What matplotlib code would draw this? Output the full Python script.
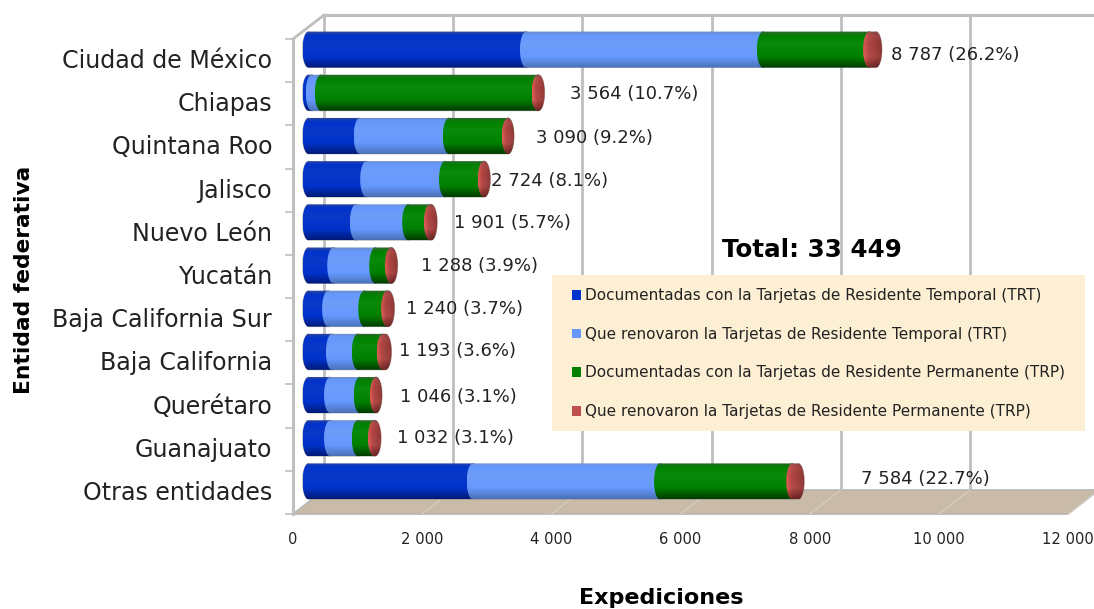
import numpy as np
import matplotlib
matplotlib.use("Agg")
import matplotlib.pyplot as plt
from matplotlib.path import Path
from matplotlib.patches import Patch, Polygon, Rectangle
from matplotlib.transforms import offset_copy, Affine2D

plt.rcParams['font.family'] = ['DejaVu Sans']

# datos
entidades = ["Ciudad de México", "Chiapas", "Quintana Roo", "Jalisco", "Nuevo León", "Yucatán",
             "Baja California Sur", "Baja California", "Querétaro", "Guanajuato", "Otras entidades"]
doc_trt = [3367, 50, 793, 893, 733, 383, 303, 363, 333, 333, 2543]
ren_trt = [3669, 140, 1380, 1220, 810, 650, 560, 400, 460, 430, 2900]
doc_trp = [1644, 3356, 914, 600, 337, 244, 354, 387, 250, 250, 2047]
ren_trp = [107, 18, 3, 11, 21, 11, 23, 43, 3, 19, 94]
etiquetas = ["8 787 (26.2%)", "3 564 (10.7%)", "3 090 (9.2%)", "2 724 (8.1%)", "1 901 (5.7%)", "1 288 (3.9%)",
             "1 240 (3.7%)", "1 193 (3.6%)", "1 046 (3.1%)", "1 032 (3.1%)", "7 584 (22.7%)"]
xticks = [0, 2000, 4000, 6000, 8000, 10000, 12000]
xticklabels = ["0", "2 000", "4 000", "6 000", "8 000", "10 000", "12 000"]
series = ["Documentadas con la Tarjetas de Residente Temporal (TRT)",
          "Que renovaron la Tarjetas de Residente Temporal (TRT)",
          "Documentadas con la Tarjetas de Residente Permanente (TRP)",
          "Que renovaron la Tarjetas de Residente Permanente (TRP)"]

# posicion de las etiquetas en pixeles (izquierda, centro y)
etq_x = [891, 570, 536, 491, 454, 421, 406, 399, 400, 397, 861]
etq_y = [55, 94, 138, 181, 223, 266, 309, 351, 397, 438, 479]

colores = ["#0033CC", "#6699FF", "#008000", "#C0504D"]
oscuro = ["#001A78", "#4A70B8", "#003C00", "#7A2A28"]
claro = ["#0A38C8", "#6E9CF8", "#0A8A0A", "#B84844"]

W, H = 1094, 609
fig = plt.figure(figsize=(W / 100, H / 100), dpi=100)
ax = fig.add_axes([293 / W, (H - 514) / H, 775 / W, 475 / H])
ax.set_xlim(0, 12000)
ax.set_ylim(10.5, -0.5)
for s in ax.spines.values():
    s.set_visible(False)

gris = "#BFBFBF"
fondo = offset_copy(ax.transData, fig=fig, x=31, y=24, units='dots')
medio = offset_copy(ax.transData, fig=fig, x=15.5, y=11, units='dots')

# piso
piso = Polygon([[0, 10.5], [12000, 10.5], [12000 + 31 / 0.0646, 10.5 - 24 / 43.18], [31 / 0.0646, 10.5 - 24 / 43.18]],
               closed=True, facecolor="#C9BBA8", edgecolor="#B5B5B5", lw=1.2, zorder=1, clip_on=False)
ax.add_patch(piso)

# rejilla de atras
for v in xticks:
    ax.plot([v, v], [-0.5, 10.5], color=gris, lw=2, transform=fondo, clip_on=False, zorder=1.5, solid_capstyle='butt')
    if v > 0:
        ax.plot([v - 31 / 0.0646, v], [10.5 + 24 / 43.18, 10.5], color="#D9CFC2", lw=0.8, transform=fondo,
                clip_on=False, zorder=1.4)
ax.plot([0, 12000], [-0.5, -0.5], color=gris, lw=2.2, transform=fondo, clip_on=False, zorder=1.5)
ax.plot([0, 0], [-0.5, 10.5], color=gris, lw=2.2, clip_on=False, zorder=1.6)
ax.plot([0, 31 / 0.0646], [-0.5, -0.5 - 24 / 43.18], color=gris, lw=2, clip_on=False, zorder=1.6)

# ticks
ax.set_yticks(np.arange(-0.5, 11, 1))
ax.set_yticklabels([])
ax.set_yticks(np.arange(11), minor=True)
ax.set_yticklabels(entidades, minor=True, fontsize=17.1, color="#222222")
ax.tick_params(axis='y', which='major', length=6, color=gris, width=1.2)
ax.tick_params(axis='y', which='minor', length=0, pad=15)
for lbl in ax.get_yticklabels(minor=True):
    lbl.set_transform(lbl.get_transform() + Affine2D().translate(0, 2))
ax.set_xticks(xticks)
ax.set_xticklabels(xticklabels, fontsize=10.6, color="#222222")
ax.tick_params(axis='x', length=0, pad=13)


def cilindro(a, b, y, rx, h, k):
    t = np.linspace(-np.pi / 2, np.pi / 2, 30)
    xs = np.concatenate([a - rx * np.cos(t), b + rx * np.cos(t[::-1])])
    ys = np.concatenate([y + h * np.sin(t), y + h * np.sin(t[::-1])])
    p = Path(np.column_stack([xs, ys]))
    c0 = np.array(matplotlib.colors.to_rgb(oscuro[k]))
    c1 = np.array(matplotlib.colors.to_rgb(colores[k]))
    c2 = np.array(matplotlib.colors.to_rgb(claro[k]))
    # degradado vertical, oscuro en los bordes
    pos = np.array([0, 0.12, 0.35, 0.7, 1])
    filas = np.array([c0 * 0.8 + 0.2, c1, c2, c1, c0])
    lin = np.linspace(0, 1, 64)
    img = np.stack([np.interp(lin, pos, filas[:, i]) for i in range(3)], axis=1)[:, np.newaxis, :]
    img = np.repeat(img, 2, axis=1)
    if k == 3:
        # la tapa roja es mas clara a la izquierda
        img = np.repeat(img[:, :1, :], 32, axis=1)
        brillo = np.interp(np.linspace(0, 1, 32), [0, 0.3, 1], [1.2, 0.95, 0.75])
        img = np.clip(img * brillo[np.newaxis, :, np.newaxis], 0, 1)
    im = ax.imshow(img, extent=[a - rx, b + rx, y + h, y - h], aspect='auto', transform=medio,
                   interpolation='bilinear', zorder=3 + k * 0.1)
    im.set_clip_box(fig.bbox)
    im.set_clip_path(p, transform=medio)
    ax.plot(xs, ys, color="#8A8A8A", lw=0.6, alpha=0.6, transform=medio, clip_on=False, zorder=2.9)


rx = 6 / 0.0646
h = 18 / 43.18
tabla = np.array([doc_trt, ren_trt, doc_trp, ren_trp])
izq = np.zeros(len(entidades))
for k in range(4):
    for i in range(len(entidades)):
        cilindro(izq[i], izq[i] + tabla[k][i], i, rx, h, k)
    izq = izq + tabla[k]
ax.set_xlim(0, 12000)
ax.set_ylim(10.5, -0.5)

# caja de la leyenda
fig.patches.append(Rectangle((552 / W, 1 - 431 / H), 533 / W, 156 / H, transform=fig.transFigure,
                             facecolor="#FDEFD3", edgecolor="none", zorder=5))
manejadores = [Patch(facecolor=c, edgecolor='none') for c in colores]
leg = fig.legend(manejadores, series, loc='upper left', bbox_to_anchor=(566 / W, 1 - 282 / H), frameon=False,
                 fontsize=11.0, labelspacing=1.55, handlelength=0.6, handleheight=0.6, handletextpad=0.26,
                 borderaxespad=0, borderpad=0.4, labelcolor="#222222")
leg.set_zorder(6)

# etiquetas de valor
for i in range(len(etiquetas)):
    fig.text(etq_x[i] / W, 1 - etq_y[i] / H, etiquetas[i], fontsize=13.0, color="#222222", va='center', ha='left',
             zorder=7)

fig.text(812 / W, 1 - 250 / H, "Total: 33 449", fontsize=17.7, fontweight='bold', color="black", ha='center',
         va='center', zorder=7)
fig.text(24 / W, 1 - 280 / H, "Entidad federativa", fontsize=15.7, fontweight='bold', rotation=90, ha='center',
         va='center', color="black")
fig.text(661 / W, 1 - 598 / H, "Expediciones", fontsize=16, fontweight='bold', ha='center', va='center',
         color="black")

fig.savefig("out.png", dpi=100)
